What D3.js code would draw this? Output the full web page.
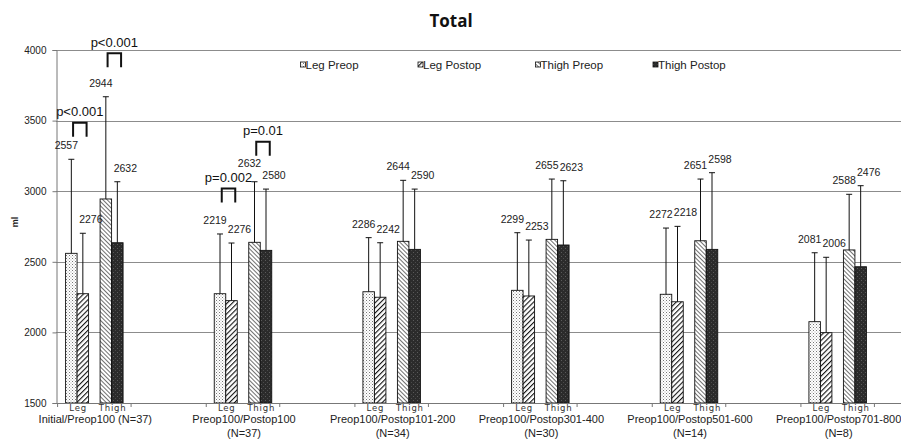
<!DOCTYPE html>
<html><head><meta charset="utf-8">
<script src="https://cdn.jsdelivr.net/npm/d3@7"></script>
<style>body{margin:0;background:#fff} svg{display:block}</style>
</head><body>
<svg id="c" width="901" height="439"></svg>
<script>
// ---------- data ----------
const groupLabels = [
  ["Initial/Preop100 (N=37)"],
  ["Preop100/Postop100", "(N=37)"],
  ["Preop100/Postop101-200", "(N=34)"],
  ["Preop100/Postop301-400", "(N=30)"],
  ["Preop100/Postop501-600", "(N=14)"],
  ["Preop100/Postop701-800", "(N=8)"]
];
const seriesNames = ["Leg Preop", "Leg Postop", "Thigh Preop", "Thigh Postop"];
const subLabels = ["Leg", "Thigh"];
const phases = ["Preop", "Postop"];

// bar heights (ml)
const legPreop    = [2560, 2274, 2288, 2298, 2270, 2076];
const legPostop   = [2274, 2225, 2249, 2258, 2217, 1998];
const thighPreop  = [2945, 2638, 2645, 2659, 2649, 2584];
const thighPostop = [2635, 2581, 2588, 2619, 2588, 2465];
// upper end of error bars (ml)
const legPreopUpper    = [3226, 2697, 2671, 2706, 2739, 2564];
const legPostopUpper   = [2702, 2633, 2635, 2654, 2751, 2532];
const thighPreopUpper  = [3669, 3067, 3077, 3086, 3086, 2978];
const thighPostopUpper = [3067, 3015, 3015, 3074, 3131, 3039];
// printed value labels
const legPreopLabel    = [2557, 2219, 2286, 2299, 2272, 2081];
const legPostopLabel   = [2276, 2276, 2242, 2253, 2218, 2006];
const thighPreopLabel  = [2944, 2632, 2644, 2655, 2651, 2588];
const thighPostopLabel = [2632, 2580, 2590, 2623, 2598, 2476];

const yTicks = [1500, 2000, 2500, 3000, 3500, 4000];
// significance brackets: group index, pair, text, bracket level (ml)
const pGroup = [0, 0, 1, 1];
const pPair  = ["Leg", "Thigh", "Leg", "Thigh"];
const pText  = ["p<0.001", "p<0.001", "p=0.002", "p=0.01"];
const pLevel = [3485, 3977, 3020, 3350];

// ---------- build ----------
const svg = d3.select("#c");
const defs = svg.append("defs");

// patterns
const pDots = defs.append("pattern").attr("id", "pDots").attr("patternUnits", "userSpaceOnUse")
  .attr("width", 3).attr("height", 3);
pDots.append("rect").attr("width", 3).attr("height", 3).attr("fill", "#fff");
pDots.append("rect").attr("x", 0).attr("y", 0).attr("width", 1).attr("height", 1).attr("fill", "#777");
pDots.append("rect").attr("x", 1.5).attr("y", 1.5).attr("width", 1).attr("height", 1).attr("fill", "#aaa");

const pFwd = defs.append("pattern").attr("id", "pFwd").attr("patternUnits", "userSpaceOnUse")
  .attr("width", 3.6).attr("height", 3.6).attr("patternTransform", "rotate(45)");
pFwd.append("rect").attr("width", 3.6).attr("height", 3.6).attr("fill", "#fff");
pFwd.append("line").attr("x1", 0).attr("y1", 0).attr("x2", 0).attr("y2", 3.6)
  .attr("stroke", "#111").attr("stroke-width", 2.2);

const pBack = defs.append("pattern").attr("id", "pBack").attr("patternUnits", "userSpaceOnUse")
  .attr("width", 3).attr("height", 3).attr("patternTransform", "rotate(-45)");
pBack.append("rect").attr("width", 3).attr("height", 3).attr("fill", "#fff");
pBack.append("line").attr("x1", 0).attr("y1", 0).attr("x2", 0).attr("y2", 3)
  .attr("stroke", "#333").attr("stroke-width", 1.4);

const pDark = defs.append("pattern").attr("id", "pDark").attr("patternUnits", "userSpaceOnUse")
  .attr("width", 4).attr("height", 4);
pDark.append("rect").attr("width", 4).attr("height", 4).attr("fill", "#2b2b2b");
pDark.append("rect").attr("x", 1).attr("y", 0).attr("width", 1).attr("height", 1).attr("fill", "#5a5a5a");
pDark.append("rect").attr("x", 3).attr("y", 2).attr("width", 1).attr("height", 1).attr("fill", "#4a4a4a");

const fills = ["url(#pDots)", "url(#pFwd)", "url(#pBack)", "url(#pDark)"];

// scales
const y = d3.scaleLinear().domain([1500, 4000]).range([403, 50]);
const x = d3.scaleBand().domain(d3.range(groupLabels.length)).range([20, 912]);
const clusterW = 57.5;
const pair = d3.scaleBand().domain(subLabels).range([0, clusterW]).paddingInner(1 / 3);
const phase = d3.scaleBand().domain(phases).range([0, pair.bandwidth()]);
const clusterLeft = i => x(i) + x.bandwidth() / 2 - clusterW / 2;

const values = [legPreop, legPostop, thighPreop, thighPostop];
const uppers = [legPreopUpper, legPostopUpper, thighPreopUpper, thighPostopUpper];
const labels = [legPreopLabel, legPostopLabel, thighPreopLabel, thighPostopLabel];

const rows = [];
groupLabels.forEach((g, i) => {
  seriesNames.forEach((s, k) => {
    const pr = subLabels[Math.floor(k / 2)], ph = phases[k % 2];
    rows.push({ i, k, pr, ph, v: values[k][i], up: uppers[k][i], lab: labels[k][i],
      x0: clusterLeft(i) + pair(pr) + phase(ph) });
  });
});

const plotL = 56, plotR = 901;
const sans = "Liberation Sans, Arial, sans-serif";

// gridlines
svg.append("g").selectAll("line").data(yTicks).join("line")
  .attr("x1", plotL).attr("x2", plotR)
  .attr("y1", d => Math.round(y(d)) + 0.5).attr("y2", d => Math.round(y(d)) + 0.5)
  .attr("stroke", "#8c8c8c").attr("stroke-width", 1);

// y axis
const yAxis = svg.append("g").attr("transform", `translate(${plotL + 0.5},0)`)
  .call(d3.axisLeft(y).tickValues(yTicks).tickSize(4).tickPadding(6).tickFormat(d3.format("d")));
yAxis.select(".domain").attr("stroke", "#777");
yAxis.selectAll(".tick line").attr("stroke", "#777");
yAxis.selectAll("text").attr("font-family", sans).attr("font-size", 10).attr("fill", "#222");

svg.append("text").attr("transform", "translate(18,222) rotate(-90)")
  .attr("text-anchor", "middle").attr("font-family", sans)
  .attr("font-size", 9).attr("font-weight", "bold").attr("fill", "#222").text("ml");

// bars
const bw = phase.bandwidth();
svg.append("g").selectAll("rect").data(rows).join("rect")
  .attr("x", d => d.x0).attr("width", bw)
  .attr("y", d => y(d.v)).attr("height", d => y(1500) - y(d.v))
  .attr("fill", d => fills[d.k]).attr("stroke", "#111").attr("stroke-width", 0.9);

// error bars
const eb = svg.append("g").attr("stroke", "#111").attr("stroke-width", 1);
eb.selectAll("line.v").data(rows).join("line").attr("class", "v")
  .attr("x1", d => d.x0 + bw / 2).attr("x2", d => d.x0 + bw / 2)
  .attr("y1", d => y(d.v)).attr("y2", d => y(d.up));
eb.selectAll("line.c").data(rows).join("line").attr("class", "c")
  .attr("x1", d => d.x0 + bw / 2 - 3).attr("x2", d => d.x0 + bw / 2 + 3)
  .attr("y1", d => y(d.up)).attr("y2", d => y(d.up));

// significance brackets
const pBoxes = [];
pText.forEach((t, j) => {
  const left = clusterLeft(pGroup[j]) + pair(pPair[j]);
  const x1 = left + 7.5, x2 = left + 21, yt = y(pLevel[j]);
  svg.append("path").attr("d", `M${x1},${yt + 14}V${yt}H${x2}V${yt + 14}`)
    .attr("fill", "none").attr("stroke", "#111").attr("stroke-width", 2);
  const tn = svg.append("text").attr("x", (x1 + x2) / 2).attr("y", yt - 6.5)
    .attr("text-anchor", "middle").attr("font-family", sans)
    .attr("font-size", 13).attr("fill", "#111").text(t);
  pBoxes.push(tn.node().getBBox());
});

// value labels (preop nudged left, postop nudged right), lifted above any p-value text they would hit
svg.append("g").selectAll("text").data(rows).join("text")
  .attr("x", d => d.x0 + bw / 2 + (d.ph === "Preop" ? -5 : 8)).attr("y", d => y(d.up) - 10)
  .attr("text-anchor", "middle").attr("font-family", sans)
  .attr("font-size", 10.5).attr("fill", "#222").text(d => d.lab)
  .each(function () {
    const b = this.getBBox();
    pBoxes.forEach(p => {
      const hx = b.x < p.x + p.width && p.x < b.x + b.width;
      const over = b.y + b.height - p.y;
      if (hx && over > 0 && b.y < p.y + p.height) {
        this.setAttribute("y", +this.getAttribute("y") - over - 0.5);
      }
    });
  });

// x axis baseline
svg.append("line").attr("x1", plotL).attr("x2", plotR)
  .attr("y1", Math.round(y(1500)) + 0.5).attr("y2", Math.round(y(1500)) + 0.5)
  .attr("stroke", "#777");

// sub category labels + small ticks + category labels
groupLabels.forEach((g, i) => {
  const cl = clusterLeft(i);
  subLabels.forEach(s => {
    svg.append("text").attr("x", cl + pair(s) + pair.bandwidth() / 2 + 1).attr("y", 411)
      .attr("text-anchor", "middle").attr("font-family", "DejaVu Sans, sans-serif")
      .attr("font-size", 8.5).attr("letter-spacing", 0.8).attr("fill", "#333").text(s);
  });
  [cl - 8, cl + clusterW + 8].forEach(tx => {
    svg.append("line").attr("x1", tx).attr("x2", tx).attr("y1", 403).attr("y2", 407)
      .attr("stroke", "#777");
  });
  g.forEach((line, li) => {
    svg.append("text").attr("x", x(i) + x.bandwidth() / 2 + 1).attr("y", 423 + li * 14)
      .attr("text-anchor", "middle").attr("font-family", sans)
      .attr("font-size", 11).attr("fill", "#222").text(line);
  });
});

// legend
const lg = svg.append("g");
seriesNames.forEach((s, k) => {
  const lx = 300.5 + k * 117.5;
  lg.append("rect").attr("x", lx).attr("y", 62).attr("width", 5).attr("height", 5)
    .attr("fill", fills[k]).attr("stroke", "#111").attr("stroke-width", 0.8);
  lg.append("text").attr("x", lx + 5).attr("y", 69)
    .attr("font-family", sans).attr("font-size", 11.5)
    .attr("fill", "#222").text(s);
});

// title
svg.append("text").attr("x", 451).attr("y", 27).attr("text-anchor", "middle")
  .attr("font-family", "Open Sans, sans-serif").attr("font-weight", "bold")
  .attr("font-size", 17).attr("fill", "#111").text("Total");
</script>
</body></html>
